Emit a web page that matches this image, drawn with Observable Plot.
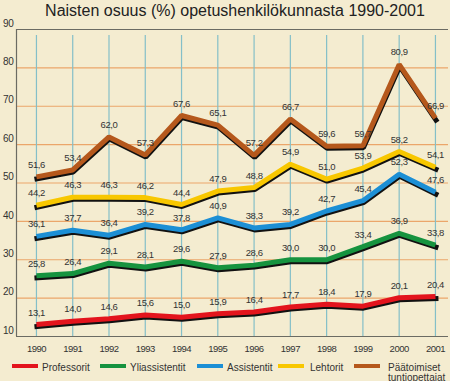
<!DOCTYPE html>
<html>
<head>
<meta charset="utf-8">
<script src="https://cdn.jsdelivr.net/npm/d3@7"></script>
<script src="https://cdn.jsdelivr.net/npm/@observablehq/plot@0.6"></script>
<style>
  html, body { margin: 0; padding: 0; background: #f4ecd0; }
  #wrap { position: relative; width: 450px; height: 381px; background: #f4ecd0; overflow: hidden; font-family: "Liberation Sans", Arial, sans-serif; }
  #title { position: absolute; top: 0; left: 0; height: 22px; line-height: 22px; font-size: 16px; color: #222; text-align: center; padding-left: 20px; box-sizing: border-box; width: 450px; white-space: nowrap; z-index: 2; }
  #legend { position: relative; height: 23px; width: 450px; font-size: 10px; color: #333; }
  .sw { position: absolute; top: 6px; width: 26px; height: 4px; }
  .lb { position: absolute; top: 5px; line-height: 9.5px; white-space: nowrap; }
  svg { display: block; }
  .vl text { letter-spacing: -0.4px; }
  .xa text { letter-spacing: -0.5px; }
  .ya text { letter-spacing: -0.3px; }
</style>
</head>
<body>
<div id="wrap">
  <div id="title">Naisten osuus (%) opetushenkilökunnasta 1990-2001</div>
  <div id="chart"></div>
  <div id="legend"></div>
</div>
<script>
const years = [1990, 1991, 1992, 1993, 1994, 1995, 1996, 1997, 1998, 1999, 2000, 2001];
const seriesNames = ["Professorit", "Yliassistentit", "Assistentit", "Lehtorit", "Päätoimiset tuntiopettajat"];
const seriesColors = ["#e3141d", "#16933f", "#1c8fd5", "#f8c700", "#b5581c"];
const professorit    = [13.1, 14.0, 14.6, 15.6, 15.0, 15.9, 16.4, 17.7, 18.4, 17.9, 20.1, 20.4];
const yliassistentit = [25.8, 26.4, 29.1, 28.1, 29.6, 27.9, 28.6, 30.0, 30.0, 33.4, 36.9, 33.8];
const assistentit    = [36.1, 37.7, 36.4, 39.2, 37.8, 40.9, 38.3, 39.2, 42.7, 45.4, 52.3, 47.6];
const lehtorit       = [44.2, 46.3, 46.3, 46.2, 44.4, 47.9, 48.8, 54.9, 51.0, 53.9, 58.2, 54.1];
const paatoimiset    = [51.6, 53.4, 62.0, 57.3, 67.6, 65.1, 57.2, 66.7, 59.6, 59.7, 80.9, 66.9];
const yTicks = [10, 20, 30, 40, 50, 60, 70, 80, 90];
const innerGrid = [20, 30, 40, 50, 60, 70, 80];
const xDomain = [1989.45, 2001.36];
const yDomain = [10, 90];

const allSeries = [professorit, yliassistentit, assistentit, lehtorit, paatoimiset];
const data = [];
allSeries.forEach((vals, i) => vals.forEach((v, j) => data.push({series: seriesNames[i], year: years[j], value: v})));

const fmt = v => d3.format(".1f")(v).replace(".", ",");
const smallFont = '"Liberation Sans", Arial, sans-serif';

const chart = Plot.plot({
  width: 450,
  height: 358,
  marginTop: 29,
  marginBottom: 22,
  marginLeft: 16,
  marginRight: 2,
  style: {background: "transparent", fontFamily: smallFont, fontSize: "10px", color: "#333"},
  x: {domain: xDomain, axis: null},
  y: {domain: yDomain, axis: null},
  color: {domain: seriesNames, range: seriesColors},
  marks: [
    Plot.ruleY(innerGrid, {stroke: "#eba66a", strokeWidth: 1.2}),
    Plot.ruleX(years, {y1: yDomain[0], y2: yDomain[1], stroke: "#84bfc8", strokeWidth: 1.2, insetBottom: -6}),
    Plot.ruleY(yDomain, {stroke: "#6b6b63", strokeWidth: 1.2}),
    Plot.ruleX([xDomain[0]], {y1: yDomain[0], y2: yDomain[1], stroke: "#6b6b63", strokeWidth: 1.2}),
    Plot.axisY(yTicks, {tickSize: 0, tickPadding: 3, dy: -6, fontSize: 10, fill: "#333", label: null, className: "ya"}),
    Plot.axisX(years, {tickSize: 0, tickPadding: 9, tickFormat: d => String(d), fontSize: 9.5, fill: "#333", label: null, className: "xa"}),
    Plot.line(data, {x: "year", y: "value", z: "series", stroke: "#111", strokeWidth: 5, dy: 2, dx: 0.5, strokeLinejoin: "miter", strokeLinecap: "square"}),
    Plot.line(data, {x: "year", y: "value", z: "series", stroke: "series", strokeWidth: 5, strokeLinejoin: "miter", strokeLinecap: "butt"}),
    Plot.text(data, {x: "year", y: "value", text: d => fmt(d.value), dy: -12, fontSize: 9.5, fill: "#333", className: "vl"})
  ]
});
document.getElementById("chart").appendChild(chart);

// legend
const swatchX = [12, 100, 197, 278, 354];
const labelX = [42, 130, 227, 310, 388];
const legend = document.getElementById("legend");
seriesNames.forEach((name, i) => {
  const sw = document.createElement("div");
  sw.className = "sw";
  sw.style.left = swatchX[i] + "px";
  sw.style.background = seriesColors[i];
  legend.appendChild(sw);
  const lb = document.createElement("div");
  lb.className = "lb";
  lb.style.left = labelX[i] + "px";
  lb.innerHTML = name.replace(" ", "<br>");
  legend.appendChild(lb);
});
</script>
</body>
</html>
